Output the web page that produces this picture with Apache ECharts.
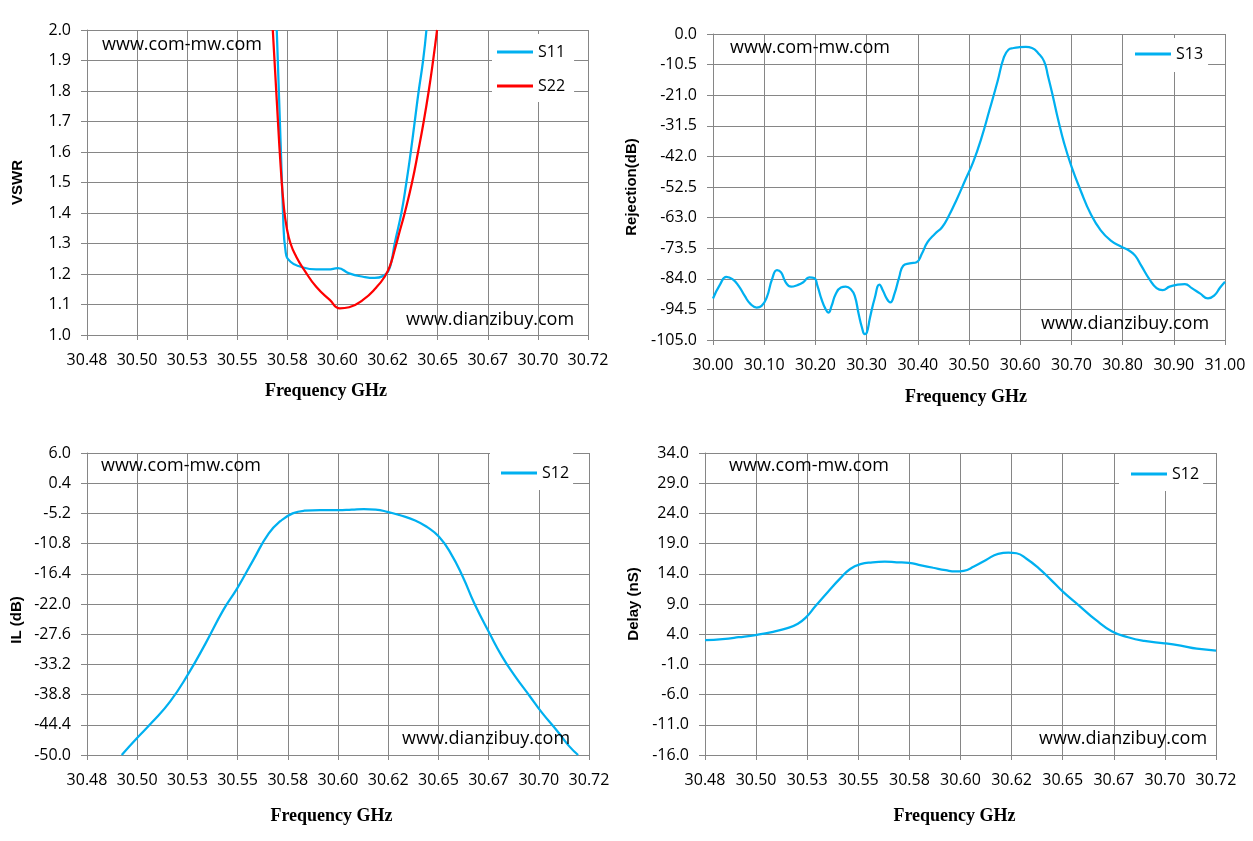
<!DOCTYPE html>
<html><head><meta charset="utf-8">
<script src="https://cdn.jsdelivr.net/npm/echarts@6/dist/echarts.min.js"></script>
<style>html,body{margin:0;padding:0;background:#fff}#c{width:1253px;height:841px}</style>
</head><body><div id="c"></div>
<script>
// ---------- Axis tick definitions ----------
const freqTicksNarrow = [30.48, 30.504, 30.528, 30.552, 30.576, 30.6, 30.624, 30.648, 30.672, 30.696, 30.72];
const freqTicksWide = [30.0, 30.1, 30.2, 30.3, 30.4, 30.5, 30.6, 30.7, 30.8, 30.9, 31.0];
const vswrTicks = [1.0, 1.1, 1.2, 1.3, 1.4, 1.5, 1.6, 1.7, 1.8, 1.9, 2.0];
const rejTicks = [-105.0, -94.5, -84.0, -73.5, -63.0, -52.5, -42.0, -31.5, -21.0, -10.5, 0.0];
const ilTicks = [-50.0, -44.4, -38.8, -33.2, -27.6, -22.0, -16.4, -10.8, -5.2, 0.4, 6.0];
const delayTicks = [-16.0, -11.0, -6.0, -1.0, 4.0, 9.0, 14.0, 19.0, 24.0, 29.0, 34.0];

// ---------- Series data ----------
const s11Freq = [30.5709, 30.5739, 30.5752, 30.5775, 30.5822, 30.5898, 30.5955, 30.6002, 30.6056, 30.6122, 30.6178, 30.6218, 30.6242, 30.6258, 30.6274, 30.6306, 30.633, 30.6351, 30.637, 30.6389, 30.641, 30.6426];
const s11Vswr = [2.0, 1.4, 1.27, 1.24, 1.224, 1.215, 1.215, 1.219, 1.202, 1.191, 1.187, 1.193, 1.208, 1.24, 1.3, 1.4, 1.5, 1.6, 1.7, 1.8, 1.9, 2.0];

const s22Freq = [30.569, 30.5709, 30.5728, 30.5743, 30.5756, 30.5775, 30.5803, 30.5841, 30.5898, 30.5963, 30.6011, 30.6056, 30.6122, 30.6186, 30.6226, 30.625, 30.6274, 30.6298, 30.6322, 30.6357, 30.6386, 30.6413, 30.6437, 30.6458, 30.6477];
const s22Vswr = [2.0, 1.77, 1.55, 1.42, 1.355, 1.3, 1.256, 1.213, 1.158, 1.115, 1.0875, 1.091, 1.115, 1.156, 1.191, 1.224, 1.279, 1.34, 1.4, 1.5, 1.6, 1.7, 1.8, 1.9, 2.0];

const s13Freq = [30.0, 30.0142, 30.026, 30.038, 30.05, 30.0617, 30.0735, 30.0854, 30.0949, 30.105, 30.1154, 30.125, 30.133, 30.142, 30.1526, 30.1644, 30.1763, 30.188, 30.1976, 30.204, 30.2119, 30.2198, 30.2253, 30.2316, 30.2395, 30.2498, 30.2593, 30.2688, 30.2767, 30.2846, 30.2909, 30.2964, 30.3004, 30.3067, 30.3162, 30.325, 30.332, 30.3399, 30.3462, 30.3542, 30.3636, 30.3715, 30.3842, 30.3976, 30.4079, 30.419, 30.4332, 30.4474, 30.4609, 30.4767, 30.4925, 30.5083, 30.5241, 30.54, 30.5557, 30.5676, 30.577, 30.5873, 30.5992, 30.611, 30.623, 30.6348, 30.6467, 30.6545, 30.664, 30.6743, 30.686, 30.7004, 30.7178, 30.7375, 30.7573, 30.777, 30.7968, 30.8126, 30.8245, 30.8364, 30.8522, 30.8664, 30.8783, 30.8917, 30.9075, 30.9217, 30.9352, 30.951, 30.9668, 30.9787, 30.9905, 31.0];
const s13Rej = [-90.75, -85.8, -83.3, -84.1, -86.4, -89.8, -92.7, -93.85, -93.3, -90.4, -84.1, -81.0, -81.8, -85.2, -86.7, -86.2, -85.2, -83.5, -83.7, -86.4, -91.0, -94.4, -95.6, -93.3, -89.3, -87.0, -86.7, -87.5, -89.8, -96.15, -100.7, -103.0, -102.5, -97.3, -90.4, -86.0, -88.1, -91.0, -92.1, -89.3, -83.5, -79.5, -78.7, -78.3, -75.4, -71.45, -68.6, -66.3, -62.3, -56.5, -50.2, -43.9, -35.8, -26.1, -16.3, -8.3, -5.4, -4.8, -4.5, -4.4, -4.8, -6.5, -9.4, -14.6, -21.5, -29.5, -37.6, -45.6, -53.6, -61.7, -67.4, -70.9, -72.9, -74.3, -76.05, -79.5, -84.1, -87.2, -87.9, -86.7, -86.0, -85.8, -87.2, -89.0, -90.75, -89.8, -87.0, -85.0];

const s12IlFreq = [30.4966, 30.5036, 30.5112, 30.5197, 30.5282, 30.5367, 30.5452, 30.5518, 30.5594, 30.5669, 30.5726, 30.5783, 30.5839, 30.5915, 30.6, 30.6066, 30.6123, 30.618, 30.6236, 30.6293, 30.6369, 30.6425, 30.6482, 30.6539, 30.6596, 30.6652, 30.6728, 30.6784, 30.6841, 30.6917, 30.6974, 30.7049, 30.7106, 30.7148];
const s12Il = [-50.0, -47.0, -43.9, -40.1, -35.1, -29.3, -23.1, -19.1, -13.9, -8.9, -6.6, -5.2, -4.7, -4.6, -4.6, -4.5, -4.4, -4.5, -4.9, -5.5, -6.5, -7.7, -9.5, -12.6, -16.9, -21.9, -27.7, -31.7, -35.1, -39.1, -42.1, -45.6, -48.4, -50.0];

const s12DelayFreq = [30.48, 30.4882, 30.4958, 30.5044, 30.512, 30.5187, 30.5234, 30.5272, 30.532, 30.5377, 30.5434, 30.5482, 30.553, 30.5587, 30.5644, 30.57, 30.5758, 30.5815, 30.5872, 30.593, 30.5977, 30.6015, 30.6063, 30.612, 30.6177, 30.6225, 30.6263, 30.631, 30.6368, 30.6425, 30.6482, 30.6558, 30.6634, 30.671, 30.6787, 30.6863, 30.6958, 30.7034, 30.711, 30.72];
const s12Delay = [3.0, 3.2, 3.5, 3.9, 4.4, 5.0, 5.7, 6.7, 8.7, 11.0, 13.2, 14.8, 15.6, 15.9, 16.0, 15.9, 15.8, 15.4, 15.0, 14.6, 14.4, 14.5, 15.2, 16.3, 17.3, 17.5, 17.4, 16.5, 14.9, 13.0, 11.0, 8.7, 6.4, 4.5, 3.5, 2.9, 2.5, 2.1, 1.6, 1.3];

// ---------- Helpers ----------
const zip = (xs, ys) => xs.map((x, i) => [x, ys[i]]);
const GRID = '#868686';
const BLUE = '#00B0F0';
const RED = '#FF0000';
const LABEL_FONT = '"Open Sans", "Liberation Sans", sans-serif';
const TITLE_FONT = '"Liberation Sans", Arial, sans-serif';

function xAxisDef(gridIndex, ticks, nameGap, namePad) {
  const step = Math.round((ticks[1] - ticks[0]) * 1e6) / 1e6;
  return {
    type: 'value', gridIndex, min: ticks[0], max: ticks[ticks.length - 1], interval: step,
    name: 'Frequency GHz', nameLocation: 'middle', nameGap,
    nameTextStyle: { fontFamily: '"Liberation Serif", serif', fontWeight: 'bold', fontSize: 18, color: '#000', padding: namePad },
    axisLine: { show: true, onZero: false, lineStyle: { color: GRID, width: 1 } },
    axisTick: { show: true, length: 5, lineStyle: { color: GRID } },
    axisLabel: { margin: 17, color: '#000', fontSize: 16, fontFamily: LABEL_FONT, formatter: v => v.toFixed(2), hideOverlap: false, showMinLabel: true, showMaxLabel: true },
    splitLine: { show: true, lineStyle: { color: GRID, width: 1 } }
  };
}
function yAxisDef(gridIndex, ticks, name, nameGap) {
  const step = Math.round((ticks[1] - ticks[0]) * 1e6) / 1e6;
  return {
    type: 'value', gridIndex, min: ticks[0], max: ticks[ticks.length - 1], interval: step,
    name, nameLocation: 'middle', nameGap,
    nameTextStyle: { fontFamily: TITLE_FONT, fontWeight: 'bold', fontSize: 15, color: '#000' },
    axisLine: { show: true, onZero: false, lineStyle: { color: GRID, width: 1 } },
    axisTick: { show: true, length: 6, lineStyle: { color: GRID } },
    axisLabel: { margin: 16, color: '#000', fontSize: 16, fontFamily: LABEL_FONT, formatter: v => v.toFixed(1), showMinLabel: true, showMaxLabel: true },
    splitLine: { show: true, lineStyle: { color: GRID, width: 1 } }
  };
}
function lineSeries(name, xi, yi, data, color) {
  return {
    type: 'line', name, xAxisIndex: xi, yAxisIndex: yi, data,
    showSymbol: false, symbol: 'none', smooth: 0.5, clip: true,
    lineStyle: { color, width: 2.25 }, itemStyle: { color }
  };
}
function legendDef(names, left, top, padding) {
  return {
    data: names, orient: 'vertical', left, top, padding, itemGap: 14,
    icon: 'rect', itemWidth: 36, itemHeight: 3, backgroundColor: '#fff',
    selectedMode: false,
    textStyle: { color: '#000', fontSize: 16, fontFamily: LABEL_FONT, lineHeight: 20 }
  };
}
function wm(text, x, y) {
  return { type: 'text', x, y, z: 100, silent: true,
    style: { text, fill: '#000', font: '18px "Open Sans", sans-serif', verticalAlign: 'middle', align: 'left' } };
}

const chart = echarts.init(document.getElementById('c'), null, { renderer: 'canvas' });
chart.setOption({
  backgroundColor: '#fff',
  animation: false,
  grid: [
    { left: 87, top: 30, width: 501, height: 305 },
    { left: 713, top: 34, width: 512, height: 306 },
    { left: 87, top: 453, width: 502, height: 302 },
    { left: 705, top: 453, width: 511, height: 302 }
  ],
  xAxis: [
    xAxisDef(0, freqTicksNarrow, 47, [0, 23, 0, 0]),
    xAxisDef(1, freqTicksWide, 48, [0, 6, 0, 0]),
    xAxisDef(2, freqTicksNarrow, 52, [0, 13, 0, 0]),
    xAxisDef(3, freqTicksNarrow, 52, [0, 12, 0, 0])
  ],
  yAxis: [
    yAxisDef(0, vswrTicks, 'VSWR', 62),
    yAxisDef(1, rejTicks, 'Rejection(dB)', 74),
    yAxisDef(2, ilTicks, '', 62),
    yAxisDef(3, delayTicks, 'Delay (nS)', 64)
  ],
  legend: [
    legendDef(['S11', 'S22'], 492, 34, [8, 9, 6, 5]),
    legendDef(['S13'], 1123, 38, [6, 5, 8, 12]),
    legendDef(['S12'], 490, 453, [10, 4, 7, 11]),
    legendDef(['S12'], 1119, 454, [10, 4, 7, 12])
  ],
  series: [
    lineSeries('S11', 0, 0, zip(s11Freq, s11Vswr), BLUE),
    lineSeries('S22', 0, 0, zip(s22Freq, s22Vswr), RED),
    lineSeries('S13', 1, 1, zip(s13Freq, s13Rej), BLUE),
    lineSeries('S12', 2, 2, zip(s12IlFreq, s12Il), BLUE),
    lineSeries('S12', 3, 3, zip(s12DelayFreq, s12Delay), BLUE)
  ],
  graphic: [
    { type: 'text', x: 17, y: 620, rotation: Math.PI / 2, silent: true,
      style: { text: 'IL (dB)', fill: '#000', font: 'bold 15px ' + TITLE_FONT, align: 'center', verticalAlign: 'middle' } },
    wm('www.com-mw.com', 102, 45),
    wm('www.dianzibuy.com', 406, 320),
    wm('www.com-mw.com', 730, 48),
    wm('www.dianzibuy.com', 1041, 324),
    wm('www.com-mw.com', 101, 466),
    wm('www.dianzibuy.com', 402, 739),
    wm('www.com-mw.com', 729, 466),
    wm('www.dianzibuy.com', 1039, 739)
  ]
});
</script>
</body></html>
